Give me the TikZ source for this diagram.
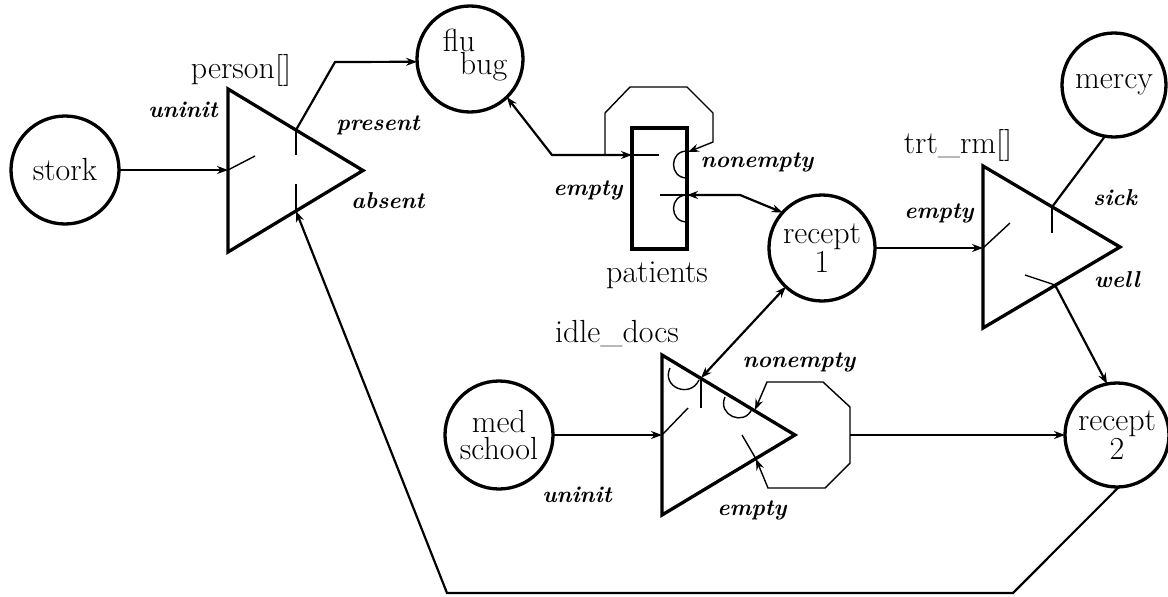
\documentclass[tikz,border=0pt]{standalone}
\usetikzlibrary{arrows.meta}
\newcommand\FRoman{\fontsize{32}{27}\selectfont}
\newcommand\FLab{\fontsize{23}{24}\selectfont\bfseries\itshape}
\begin{document}
\begin{tikzpicture}[x=1pt,y=-1pt,
  circ/.style={circle,draw,line width=3.3pt,inner sep=0pt,outer sep=0pt,minimum size=#1,font=\FRoman,align=center},
  shp/.style={line width=3.3pt},
  conn/.style={line width=2.2pt},
  thin/.style={line width=1.4pt},
  arr/.style={-{Stealth[length=11pt,width=8pt]}},
  darr/.style={{Stealth[length=11pt,width=8pt]}-{Stealth[length=11pt,width=8pt]}},
  lab/.style={font=\FLab,anchor=base,inner sep=0pt},
  nm/.style={font=\FRoman,anchor=base,inner sep=0pt}]
\useasboundingbox (0,0) rectangle (1168,597);

% circles
\node[circ=108pt] (stork) at (65,170) {stork};
\node[circ=106pt] (flu) at (470,59) {};
\node[font=\fontsize{32}{22}\selectfont,align=left,inner sep=0pt] (flut) at (475,55) {flu\\\hspace*{17pt}bug};
\node[circ=106pt] (r1) at (822,248) {recept\\1};
\node[circ=104pt] (mercy) at (1114,85) {mercy};
\node[circ=104pt] (r2) at (1117,435) {recept\\2};
\node[circ=108pt] (med) at (499,435) {med\\school};

% patients box
\node[draw,line width=3.3pt,minimum width=55pt,minimum height=121pt,inner sep=0pt,outer sep=0pt] (pat) at (659.5,188.5) {};

% person triangle
\coordinate (pA) at (228,89);
\coordinate (pB) at (228,252);
\coordinate (pC) at (363,170.5);
\draw[shp] (pA) -- (pC) -- (pB) -- cycle;
\coordinate (pIn) at (228,170);
\coordinate (pInT) at (255,156);
\coordinate (pPr) at (296,130);
\coordinate (pPrT) at (296,155);
\coordinate (pAb) at (296,211);
\coordinate (pAbT) at (296,184);
\coordinate (pBend) at (335,62);

% trt_rm triangle
\coordinate (tA) at (983,166);
\coordinate (tB) at (983,328);
\coordinate (tC) at (1120,247);
\draw[shp] (tA) -- (tC) -- (tB) -- cycle;
\coordinate (tIn) at (983,248);
\coordinate (tInT) at (1010,223);
\coordinate (tSk) at (1052,207);
\coordinate (tSkT) at (1052,233);
\coordinate (tWl) at (1055,285);
\coordinate (tWlT) at (1025,275);

% idle_docs triangle
\coordinate (iA) at (662,355);
\coordinate (iB) at (662,515);
\coordinate (iC) at (795,435);
\draw[shp] (iA) -- (iC) -- (iB) -- cycle;
\coordinate (iIn) at (662,435);
\coordinate (iInT) at (688,408);
\coordinate (iR1) at (701,378);
\coordinate (iR1T) at (701,408);
\coordinate (iNe) at (755,410);
\coordinate (iEm) at (756,459);
\coordinate (iEmT) at (742,435);

% person connections
\draw[conn,arr] (stork) -- (pIn);
\draw[thin] (pIn) -- (pInT);
\draw[conn,arr] (pPr) -- (pBend) -- (flu.183);
\draw[thin] (pPr) -- (pPrT);
\draw[thin] (pAbT) -- (pAb);

% patients connections
\coordinate (eBend) at (552,155);
\coordinate (pEm) at (632,155);
\coordinate (pEmT) at (659,155);
\draw[conn,darr] (flu.314) -- (eBend) -- (pEm);
\draw[thin] (pEm) -- (pEmT);
\coordinate (o1) at (605,155);
\coordinate (o2) at (605,113);
\coordinate (o3) at (630,87);
\coordinate (o4) at (687,87);
\coordinate (o5) at (713,113);
\coordinate (o6) at (713,142);
\coordinate (pNe) at (688,152);
\draw[thin,arr] (o1) -- (o2) -- (o3) -- (o4) -- (o5) -- (o6) -- (pNe);
\draw[thin] (687,151) .. controls (669,151) and (669,178) .. (687,178);
\draw[thin] (687,195) .. controls (669,195) and (669,222) .. (687,222);
\coordinate (pR1) at (687,195);
\coordinate (pR1T) at (660,195);
\coordinate (pR1B) at (740,195);
\draw[thin] (pR1T) -- (pR1);
\draw[conn,darr] (pR1) -- (pR1B) -- (r1.138);

% trt_rm connections
\draw[conn,arr] (r1.east) -- (tIn);
\draw[thin] (tIn) -- (tInT);
\draw[conn] (mercy.260) -- (tSk);
\draw[thin] (tSk) -- (tSkT);
\draw[thin] (tWlT) -- (tWl);
\draw[conn,arr] (tWl) -- (r2.101);

% idle_docs connections
\draw[conn,arr] (med.east) -- (iIn);
\draw[thin] (iIn) -- (iInT);
\draw[conn,darr] (iR1) -- (r1.227);
\draw[thin] (iR1) -- (iR1T);
\draw[thin] (670,368) .. controls (661,387) and (690,399) .. (699,380);
\draw[thin] (725,397) .. controls (717,415) and (744,427) .. (752,409);
\draw[thin] (iEmT) -- (iEm);
\coordinate (q1) at (767,382);
\coordinate (q2) at (823,382);
\coordinate (q3) at (850,407);
\coordinate (q4) at (850,463);
\coordinate (q5) at (825,488);
\coordinate (q6) at (768,488);
\coordinate (qOut) at (850,435);
\draw[thin,darr] (iNe) -- (q1) -- (q2) -- (q3) -- (q4) -- (q5) -- (q6) -- (iEm);
\draw[conn,arr] (qOut) -- (r2.west);

% return line
\coordinate (b1) at (1013,593);
\coordinate (b2) at (447,593);
\draw[conn,arr] (r2.272) -- (b1) -- (b2) -- (pAb);

% names
\node[nm] (nperson) at (241,78) {person[]};
\node[nm] (npat) at (657,282) {patients};
\node[nm] (ntrt) at (958,153) {trt\_rm[]};
\node[nm] (nidle) at (617,342) {idle\_docs};

% port labels
\node[lab] (lu1) at (183,117) {uninit};
\node[lab] (lpr) at (378,130) {present};
\node[lab] (lab1) at (388,208) {absent};
\node[lab] (lem1) at (588,195) {empty};
\node[lab] (lne1) at (757,167) {nonempty};
\node[lab] (lem2) at (939,218) {empty};
\node[lab] (lsick) at (1115,205) {sick};
\node[lab] (lwell) at (1117,287) {well};
\node[lab] (lne2) at (799,367) {nonempty};
\node[lab] (lu2) at (577,502) {uninit};
\node[lab] (lem3) at (752,515) {empty};
\end{tikzpicture}
\end{document}
